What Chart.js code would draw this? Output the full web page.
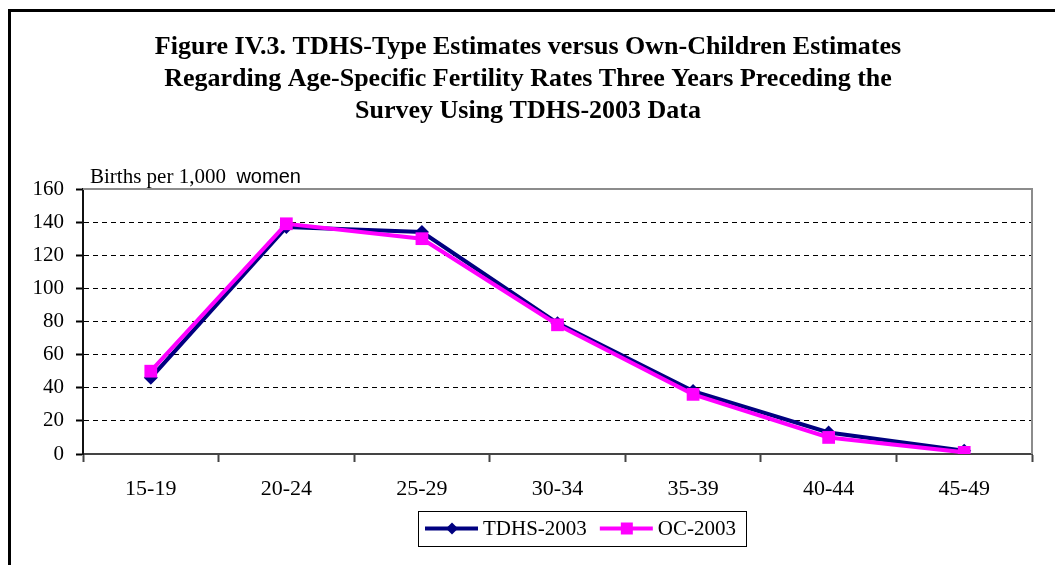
<!DOCTYPE html>
<html>
<head>
<meta charset="utf-8">
<script src="https://cdn.jsdelivr.net/npm/chart.js@4"></script>
<style>
  html, body { margin: 0; padding: 0; background: #fff; }
  #wrap { width: 1055px; height: 565px; }
</style>
</head>
<body>
<div id="wrap"><canvas id="chart" width="1055" height="565"></canvas></div>
<script>
// age groups and rates (births per 1,000 women)
let ageGroups = ['15-19', '20-24', '25-29', '30-34', '35-39', '40-44', '45-49']
let tdhs2003 = [46, 137, 134, 79, 38, 13, 2]
let oc2003 = [50, 139, 130, 78, 36, 10, 1]
let yTicks = [0, 20, 40, 60, 80, 100, 120, 140, 160]

let titleLines = [
    'Figure IV.3. TDHS-Type Estimates versus Own-Children Estimates',
    'Regarding Age-Specific Fertility Rates Three Years Preceding the',
    'Survey Using TDHS-2003 Data'
]

const serif = '"Liberation Serif", "Times New Roman", serif'
const sans = '"Liberation Sans", Arial, sans-serif'

// page frame, title, y caption and the plot's grey top/right edge
const decor = {
    id: 'decor',
    beforeDraw(chart) {
        const c = chart.ctx
        c.save()
        c.fillStyle = '#fff'
        c.fillRect(0, 0, chart.width, chart.height)
        c.fillStyle = '#000'
        c.fillRect(8, 9, 3, chart.height - 9)
        c.fillRect(8, 9, chart.width - 8, 3)

        c.font = 'bold 26px ' + serif
        c.textAlign = 'center'
        c.textBaseline = 'middle'
        const ys = [47, 79, 111]
        titleLines.forEach((t, i) => c.fillText(t, 528, ys[i]))

        c.textAlign = 'left'
        c.textBaseline = 'alphabetic'
        c.font = '21px ' + serif
        const part = 'Births per 1,000'
        c.fillText(part, 90, 183)
        const w = c.measureText(part + '  ').width
        c.font = '20px ' + sans
        c.fillText('women', 90 + w, 183)
        c.restore()
    },
    beforeDatasetsDraw(chart) {
        const a = chart.chartArea
        const c = chart.ctx
        c.save()
        c.strokeStyle = '#8c8c8c'
        c.lineWidth = 2
        c.beginPath()
        c.moveTo(a.left, a.top)
        c.lineTo(a.right, a.top)
        c.lineTo(a.right, a.bottom)
        c.stroke()
        c.restore()
    }
}

// legend box: line with marker + label
const boxLegend = {
    id: 'boxLegend',
    afterDraw(chart) {
        const c = chart.ctx
        const items = chart.data.datasets
        c.save()
        c.font = '21px ' + serif
        c.textBaseline = 'middle'
        c.textAlign = 'left'
        let x0 = 418, top = 511, h = 35
        let x = x0 + 7
        const cy = top + h / 2
        const parts = []
        items.forEach(ds => {
            const tw = c.measureText(ds.label).width
            parts.push({ ds, x, tw })
            x += 53 + 5 + tw + 13
        })
        const right = x - 13 + 10
        c.fillStyle = '#fff'
        c.fillRect(x0, top, right - x0, h)
        c.strokeStyle = '#000'
        c.lineWidth = 1
        c.strokeRect(x0 + 0.5, top + 0.5, right - x0, h)
        parts.forEach(p => {
            c.strokeStyle = p.ds.borderColor
            c.lineWidth = 4
            c.beginPath()
            c.moveTo(p.x, cy)
            c.lineTo(p.x + 53, cy)
            c.stroke()
            c.fillStyle = p.ds.borderColor
            const mx = p.x + 27
            c.beginPath()
            if (p.ds.pointStyle === 'rect') {
                c.rect(mx - 6, cy - 6, 12, 12)
            } else {
                c.moveTo(mx, cy - 6); c.lineTo(mx + 6, cy); c.lineTo(mx, cy + 6); c.lineTo(mx - 6, cy)
                c.closePath()
            }
            c.fill()
            c.fillStyle = '#000'
            c.fillText(p.ds.label, p.x + 58, cy + 1)
        })
        c.restore()
    }
}

var ctx = document.getElementById('chart').getContext('2d')

var myChart = new Chart(ctx, {
    type: 'line',
    data: {
        labels: ageGroups,
        datasets: [{
            label: 'TDHS-2003',
            data: tdhs2003,
            borderColor: '#000080',
            backgroundColor: '#000080',
            borderWidth: 4,
            pointStyle: 'rectRot',
            pointRadius: 7,
            pointBorderWidth: 0,
            fill: false,
            order: 2
        }, {
            label: 'OC-2003',
            data: oc2003,
            borderColor: '#ff00ff',
            backgroundColor: '#ff00ff',
            borderWidth: 4,
            pointStyle: 'rect',
            pointRadius: 9,
            pointBorderWidth: 0,
            fill: false,
            order: 1
        }]
    },
    options: {
        responsive: false,
        animation: false,
        events: [],
        layout: { padding: { top: 189, right: 23, left: 0, bottom: 0 } },
        plugins: {
            legend: { display: false },
            title: { display: false },
            tooltip: { enabled: false }
        },
        scales: {
            x: {
                offset: true,
                grid: {
                    offset: true,
                    drawOnChartArea: false,
                    tickLength: 8,
                    tickColor: '#444',
                    tickWidth: 2
                },
                border: { color: '#444', width: 2 },
                ticks: {
                    color: '#000',
                    font: { family: serif, size: 22 },
                    padding: 14,
                    maxRotation: 0
                },
                afterFit(scale) { scale.height = 111 }
            },
            y: {
                min: 0,
                max: 160,
                afterBuildTicks(scale) { scale.ticks = yTicks.map(v => ({ value: v })) },
                grid: {
                    color: c => (c.tick && (c.tick.value === 0 || c.tick.value === 160)) ? 'rgba(0,0,0,0)' : '#000',
                    tickBorderDash: [],
                    tickColor: '#000',
                    tickWidth: 2,
                    tickLength: 7,
                    lineWidth: 1
                },
                border: { color: '#111', width: 2, dash: [5, 4] },
                ticks: {
                    color: '#000',
                    font: { family: serif, size: 21 },
                    padding: 12
                },
                afterFit(scale) { scale.width = 83 }
            }
        }
    },
    plugins: [decor, boxLegend]
})
</script>
</body>
</html>
